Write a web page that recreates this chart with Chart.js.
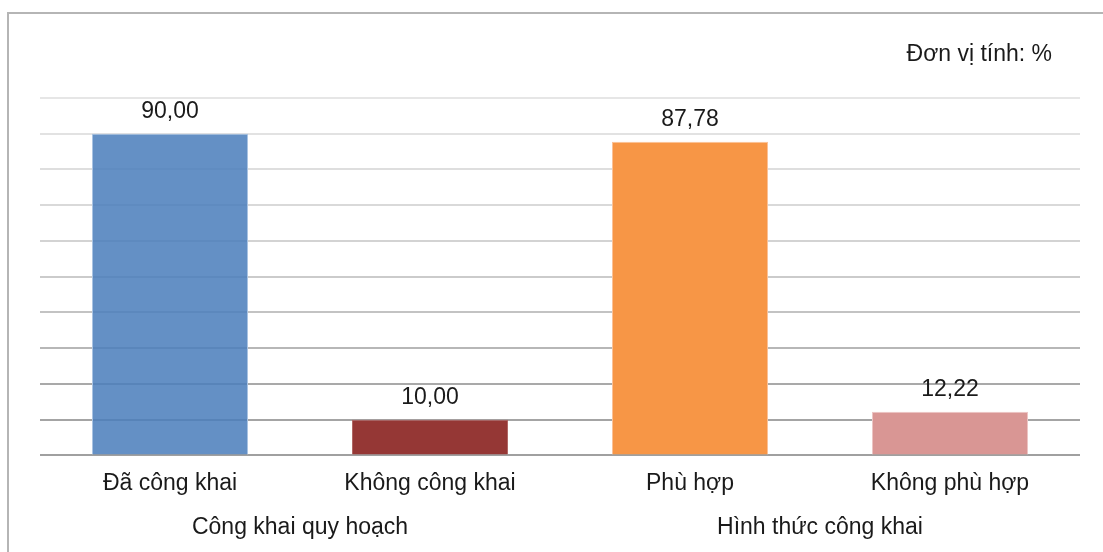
<!DOCTYPE html>
<html lang="vi">
<head>
<meta charset="utf-8">
<title>Công khai quy hoạch</title>
<script src="https://cdn.jsdelivr.net/npm/chart.js@4.4.1/dist/chart.umd.min.js"></script>
<style>
  html, body { margin: 0; padding: 0; background: #ffffff; }
  #wrap { position: relative; width: 1103px; height: 552px; }
  canvas { display: block; }
</style>
</head>
<body>
<div id="wrap"><canvas id="chart" width="1103" height="552"></canvas></div>
<script>
// Category labels, values (percent) and the two grouping captions
const categories = ['Đã công khai', 'Không công khai', 'Phù hợp', 'Không phù hợp'];
const values = [90.00, 10.00, 87.78, 12.22];
const groupLabels = ['Công khai quy hoạch', 'Hình thức công khai'];
const groupMembers = [[0, 1], [2, 3]];
const unitNote = 'Đơn vị tính: %';

// Fill colours for each bar
const barFills = ['rgba(74,126,187,0.86)', '#953735', '#f79646', '#d99694'];
const barEdges = ['#a9c3e2', '#b06664', '#fbc197', '#ecc4c3'];

// Gridline shades from 0 up to 100 (darker near the baseline)
const gridShades = ['#a0a0a0', '#a4a4a4', '#a9a9a9', '#b7b7b7', '#c3c3c3', '#cbcbcb',
                    '#d3d3d3', '#d9d9d9', '#dedede', '#e2e2e2', '#e6e6e6'];

const FONT = "'Liberation Sans', Arial, sans-serif";

const annotate = {
  id: 'annotate',
  beforeDraw(chart) {
    const ctx = chart.ctx;
    ctx.save();
    ctx.fillStyle = '#ffffff';
    ctx.fillRect(0, 0, chart.width, chart.height);
    // outer frame (left and top edges)
    ctx.strokeStyle = '#b5b5b5';
    ctx.lineWidth = 2;
    ctx.beginPath();
    ctx.moveTo(8, chart.height);
    ctx.lineTo(8, 13);
    ctx.lineTo(chart.width, 13);
    ctx.stroke();
    ctx.restore();
  },
  afterDatasetsDraw(chart) {
    const ctx = chart.ctx;
    const meta = chart.getDatasetMeta(0);
    const xScale = chart.scales.x;
    ctx.save();
    ctx.fillStyle = '#1a1a1a';
    ctx.font = '23px ' + FONT;
    ctx.textAlign = 'center';
    ctx.textBaseline = 'alphabetic';
    // value labels above each bar
    meta.data.forEach((bar, i) => {
      const txt = values[i].toFixed(2).replace('.', ',');
      ctx.fillText(txt, bar.x, bar.y - 16);
    });
    // group captions centred under their categories
    groupLabels.forEach((label, g) => {
      const xs = groupMembers[g].map(i => xScale.getPixelForValue(i));
      const cx = (Math.min(...xs) + Math.max(...xs)) / 2;
      ctx.fillText(label, cx, 534);
    });
    // unit note
    ctx.textAlign = 'right';
    ctx.fillText(unitNote, 1052, 61);
    ctx.restore();
  }
};

new Chart(document.getElementById('chart'), {
  type: 'bar',
  data: {
    labels: categories,
    datasets: [{
      data: values,
      backgroundColor: barFills,
      borderColor: barEdges,
      borderWidth: 1,
      categoryPercentage: 1.0,
      barPercentage: 0.6
    }]
  },
  options: {
    responsive: false,
    animation: false,
    layout: { padding: { left: 40, right: 23, top: 98, bottom: 41 } },
    plugins: {
      legend: { display: false },
      tooltip: { enabled: false }
    },
    scales: {
      x: {
        grid: { display: false, drawTicks: false },
        border: { display: false },
        ticks: {
          color: '#1a1a1a',
          padding: 14,
          font: { family: FONT, size: 23 }
        }
      },
      y: {
        min: 0,
        max: 100,
        ticks: { display: false, stepSize: 10 },
        border: { display: false },
        grid: {
          drawTicks: false,
          lineWidth: 2,
          color: (c) => gridShades[Math.round(c.tick.value / 10)] || '#dddddd'
        }
      }
    }
  },
  plugins: [annotate]
});
</script>
</body>
</html>
